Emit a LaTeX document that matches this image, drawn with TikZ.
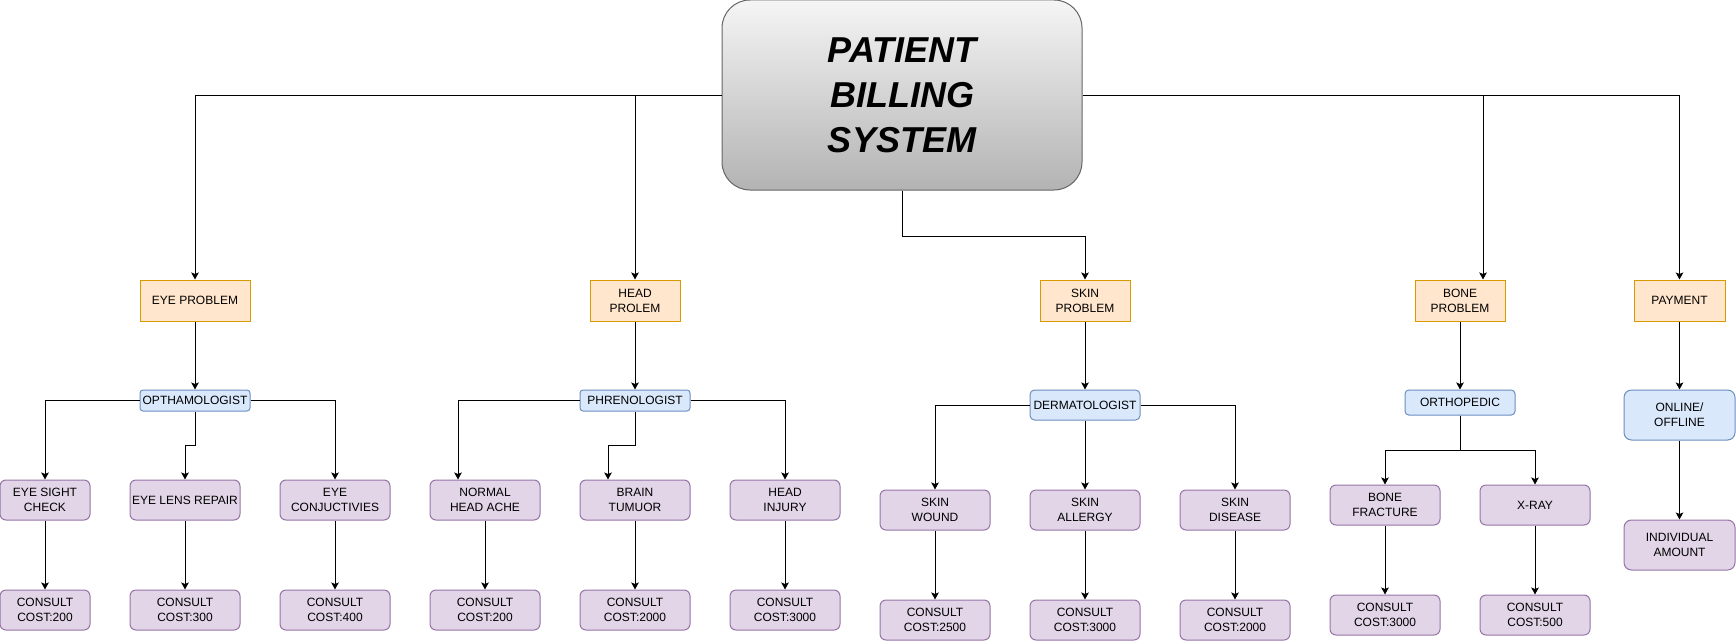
\documentclass[tikz,border=0pt]{standalone}
\usepackage{fontspec}
\setmainfont{Liberation Sans}
\usetikzlibrary{arrows.meta,shapes.misc,calc}
\definecolor{probfill}{HTML}{FFE6CC}
\definecolor{probdraw}{HTML}{D79B00}
\definecolor{docfill}{HTML}{DAE8FC}
\definecolor{docdraw}{HTML}{6C8EBF}
\definecolor{leaffill}{HTML}{E1D5E7}
\definecolor{leafdraw}{HTML}{9673A6}
\definecolor{titletop}{HTML}{F5F5F5}
\definecolor{titlebot}{HTML}{B3B3B3}
\definecolor{titledraw}{HTML}{666666}
\tikzset{
  basebox/.style={rectangle, inner sep=0pt, line width=1pt, align=center,
    font=\fontsize{12}{15}\selectfont, text=black},
  probbox/.style={basebox, fill=probfill, draw=probdraw, minimum width=90pt, minimum height=41pt},
  docbox/.style={basebox, fill=docfill, draw=docdraw, minimum width=110pt, rounded corners=3.5pt},
  leafbox/.style={basebox, fill=leaffill, draw=leafdraw, minimum width=110pt, minimum height=40pt, rounded corners=6pt},
  titlebox/.style={rectangle, inner sep=0pt, line width=1pt, draw=titledraw,
    top color=titletop, bottom color=titlebot, rounded corners=28pt,
    minimum width=360pt, minimum height=190pt, align=center,
    font=\fontsize{36}{45}\selectfont\bfseries\itshape},
  arr/.style={draw=black, line width=1pt, -{Stealth[length=7pt,width=7.5pt,inset=1.5pt]}},
}
\begin{document}
\begin{tikzpicture}[x=1pt,y=-1pt]
\useasboundingbox (0,0) rectangle (1736,642);
% title
\node[titlebox] (title) at (902,95) {PATIENT\\BILLING\\SYSTEM};
% level 1
\node[probbox, minimum width=110pt] (eyep) at (195,300.5) {EYE PROBLEM};
\node[probbox] (headp) at (635,300.5) {HEAD\\PROLEM};
\node[probbox] (skinp) at (1085,300.5) {SKIN\\PROBLEM};
\node[probbox] (bonep) at (1460,300.5) {BONE\\PROBLEM};
\node[probbox, minimum width=91pt] (pay) at (1679.5,300.5) {PAYMENT};
% level 2
\node[docbox, minimum height=21pt, rounded corners=3pt] (opth) at (195,400.5) {OPTHAMOLOGIST};
\node[docbox, minimum height=21pt, rounded corners=3pt] (phren) at (635,400.5) {PHRENOLOGIST};
\node[docbox, minimum height=30pt, rounded corners=4.5pt] (derm) at (1085,405) {DERMATOLOGIST};
\node[docbox, minimum height=25pt, rounded corners=3.75pt] (ortho) at (1460,402.5) {ORTHOPEDIC};
\node[docbox, minimum width=111pt, minimum height=50pt, rounded corners=7.5pt] (online) at (1679.5,415) {ONLINE/\\OFFLINE};
% level 3
\node[leafbox, minimum width=90pt] (sight) at (45,500) {EYE SIGHT\\CHECK};
\node[leafbox] (lens) at (185,500) {EYE LENS REPAIR};
\node[leafbox] (conj) at (335,500) {EYE\\CONJUCTIVIES};
\node[leafbox] (normal) at (485,500) {NORMAL\\HEAD ACHE};
\node[leafbox] (brain) at (635,500) {BRAIN\\TUMUOR};
\node[leafbox] (injury) at (785,500) {HEAD\\INJURY};
\node[leafbox] (wound) at (935,510) {SKIN\\WOUND};
\node[leafbox] (allergy) at (1085,510) {SKIN\\ALLERGY};
\node[leafbox] (disease) at (1235,510) {SKIN\\DISEASE};
\node[leafbox] (fracture) at (1385,505) {BONE\\FRACTURE};
\node[leafbox] (xray) at (1535,505) {X-RAY};
\node[leafbox, minimum width=111pt, minimum height=50pt, rounded corners=7.5pt] (indiv) at (1679.5,545) {INDIVIDUAL\\AMOUNT};
% level 4
\node[leafbox, minimum width=90pt] (c1) at (45,610) {CONSULT\\COST:200};
\node[leafbox] (c2) at (185,610) {CONSULT\\COST:300};
\node[leafbox] (c3) at (335,610) {CONSULT\\COST:400};
\node[leafbox] (c4) at (485,610) {CONSULT\\COST:200};
\node[leafbox] (c5) at (635,610) {CONSULT\\COST:2000};
\node[leafbox] (c6) at (785,610) {CONSULT\\COST:3000};
\node[leafbox] (c7) at (935,620) {CONSULT\\COST:2500};
\node[leafbox] (c8) at (1085,620) {CONSULT\\COST:3000};
\node[leafbox] (c9) at (1235,620) {CONSULT\\COST:2000};
\node[leafbox] (c10) at (1385,615) {CONSULT\\COST:3000};
\node[leafbox] (c11) at (1535,615) {CONSULT\\COST:500};
% connectors from title
\coordinate (bn) at ($(bonep.north)+(23,0)$);
\draw[arr] (title.west) -| (eyep.north);
\draw[arr] (title.west) -| (headp.north);
\draw[arr] (title.south) -- ++(0,46) -| (skinp.north);
\draw[arr] (title.east) -| (bn);
\draw[arr] (title.east) -| (pay.north);
% level 1 -> 2
\draw[arr] (eyep) -- (opth);
\draw[arr] (headp) -- (phren);
\draw[arr] (skinp) -- (derm);
\draw[arr] (bonep) -- (ortho);
\draw[arr] (pay) -- (online);
% eye
\draw[arr] (opth.west) -| (sight.north);
\draw[arr] (opth.south) -- ++(0,34) -| (lens.north);
\draw[arr] (opth.east) -| (conj.north);
% head
\coordinate (nh) at ($(normal.north)+(-27,0)$);
\coordinate (bh) at ($(brain.north)+(-27,0)$);
\draw[arr] (phren.west) -| (nh);
\draw[arr] (phren.south) -- ++(0,34) -| (bh);
\draw[arr] (phren.east) -| (injury.north);
% skin
\draw[arr] (derm.west) -| (wound.north);
\draw[arr] (derm) -- (allergy);
\draw[arr] (derm.east) -| (disease.north);
% bone
\draw[arr] (ortho.south) -- ++(0,35) -| (fracture.north);
\draw[arr] (ortho.south) -- ++(0,35) -| (xray.north);
% payment
\draw[arr] (online) -- (indiv);
% costs
\draw[arr] (sight) -- (c1);
\draw[arr] (lens) -- (c2);
\draw[arr] (conj) -- (c3);
\draw[arr] (normal) -- (c4);
\draw[arr] (brain) -- (c5);
\draw[arr] (injury) -- (c6);
\draw[arr] (wound) -- (c7);
\draw[arr] (allergy) -- (c8);
\draw[arr] (disease) -- (c9);
\draw[arr] (fracture) -- (c10);
\draw[arr] (xray) -- (c11);
\end{tikzpicture}
\end{document}
